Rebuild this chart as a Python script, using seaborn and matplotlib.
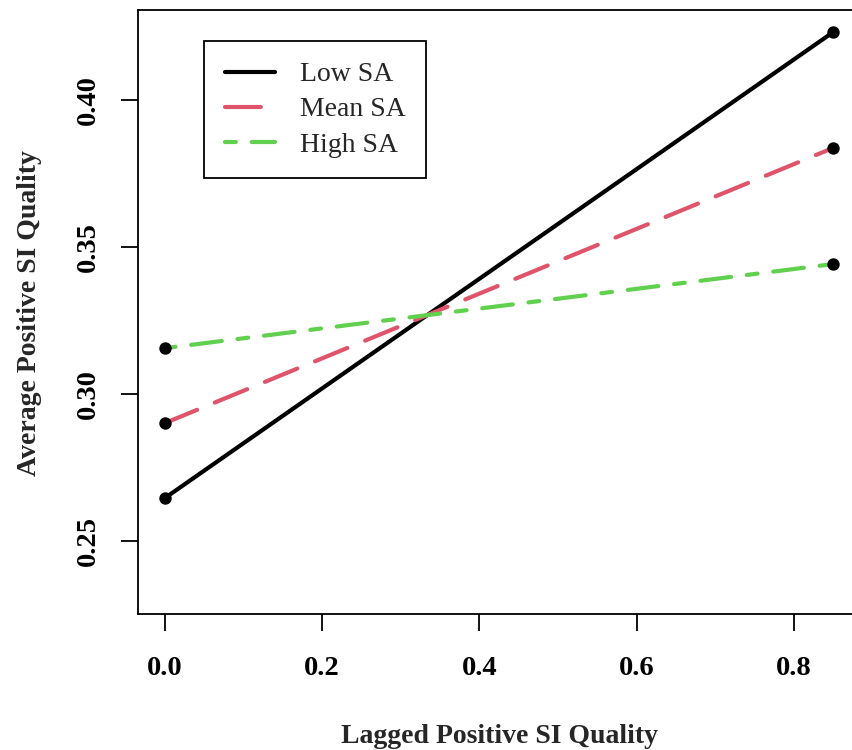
import pandas as pd
import matplotlib
matplotlib.use("Agg")
import matplotlib.pyplot as plt
import seaborn as sns

# values
lagged_quality = [0.0, 0.85]
low_sa = [0.2646, 0.4231]
mean_sa = [0.2901, 0.3837]
high_sa = [0.3156, 0.3442]
groups = ["Low SA", "Mean SA", "High SA"]
x_ticks = [0.0, 0.2, 0.4, 0.6, 0.8]
y_ticks = [0.25, 0.30, 0.35, 0.40]

df = pd.DataFrame({
    "lagged": lagged_quality * 3,
    "avg": low_sa + mean_sa + high_sa,
    "group": [g for g in groups for _ in lagged_quality],
})

sns.set_theme(style="white")
plt.rcParams["font.family"] = ["Liberation Serif", "DejaVu Serif"]

fig = plt.figure(figsize=(8.52, 7.5), dpi=100)
# the axes box runs past the right edge, as in the cropped original
ax = fig.add_axes([138 / 852, 1 - 614 / 750, 722 / 852, 604 / 750])

palette = {"Low SA": "black", "Mean SA": "#DF536B", "High SA": "#61D04F"}
dashes = {"Low SA": "", "Mean SA": (8.4, 4.6), "High SA": (2.6, 3.8, 7.4, 3.8)}

sns.lineplot(data=df, x="lagged", y="avg", hue="group", style="group",
             palette=palette, dashes=dashes, linewidth=3, ax=ax,
             hue_order=groups, style_order=groups)
for line in ax.get_lines():
    line.set_dash_capstyle("round")
    line.set_solid_capstyle("round")

sns.scatterplot(data=df, x="lagged", y="avg", color="black", s=80,
                edgecolor="black", linewidth=0, legend=False, ax=ax, zorder=5)

ax.set_xlim(-0.034, 0.884)
ax.set_ylim(0.2252, 0.4306)
ax.set_xticks(x_ticks)
ax.set_xticklabels([f"{t:.1f}" for t in x_ticks])
ax.set_yticks(y_ticks)
ax.set_yticklabels([f"{t:.2f}" for t in y_ticks], rotation=90, va="center")

ax.tick_params(axis="both", direction="out", length=12, width=1.3,
               color="black", labelsize=20.5, labelcolor="black")
ax.tick_params(axis="x", pad=18, bottom=True)
ax.tick_params(axis="y", pad=15, left=True)
for lab in ax.get_xticklabels() + ax.get_yticklabels():
    lab.set_fontweight("bold")

for sp in ax.spines.values():
    sp.set_color("black")
    sp.set_linewidth(1.3)

ax.set_xlabel("Lagged Positive SI Quality", fontsize=20, fontweight="bold")
ax.set_ylabel("Average Positive SI Quality", fontsize=20, fontweight="bold")
ax.xaxis.set_label_coords(0.501, -0.202)
ax.xaxis.label.set_va("center")
ax.yaxis.set_label_coords(-0.1496, 0.498)
ax.yaxis.label.set_va("center")

handles, labels = ax.get_legend_handles_labels()
leg = ax.legend(handles, labels, loc="upper left",
                bbox_to_anchor=(0.0914, 0.9487), borderaxespad=0,
                fontsize=20, frameon=True, fancybox=False, framealpha=1,
                edgecolor="black", handlelength=1.8, handletextpad=0.9,
                labelspacing=0.35, borderpad=0.75)
leg.get_frame().set_linewidth(1.3)
for h, g in zip(leg.get_lines(), groups):
    h.set_linewidth(3)
    h.set_dash_capstyle("round")
    h.set_solid_capstyle("round")
    if g == "Mean SA":
        h.set_dashes((8.6, 10))

fig.savefig("out.png", dpi=100)
